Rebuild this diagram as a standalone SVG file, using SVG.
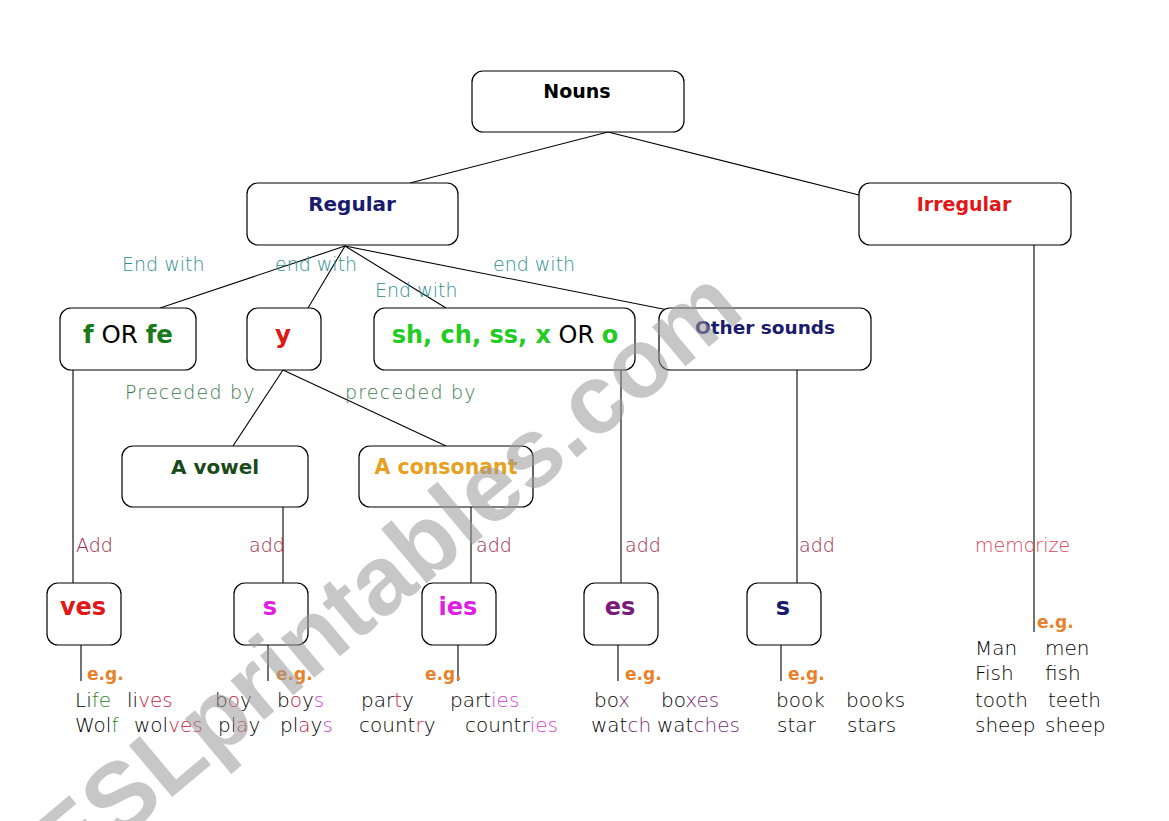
<svg xmlns="http://www.w3.org/2000/svg" width="1169" height="821" viewBox="0 0 1169 821">
<style>
.box{fill:#fff;stroke:#000;stroke-width:1.2}
.ln{stroke:#000;stroke-width:1.1;fill:none}
.b{font-family:"DejaVu Sans",sans-serif;font-weight:bold;text-anchor:middle}
.t{font-family:"DejaVu Sans",sans-serif;font-weight:200;font-size:19px}
.ex{font-family:"DejaVu Sans",sans-serif;font-weight:200;font-size:20px;fill:#000}
.eg{font-family:"DejaVu Sans",sans-serif;font-weight:bold;font-size:17px;fill:#e8822a}
.teal{fill:#2e9090}
.grn{fill:#3a7a4a;letter-spacing:1.2px}
.mar{fill:#a02848}
.r{fill:#c8203c}
.g{fill:#2a8a2a}
.m{fill:#d040d0}
.p{fill:#7a2a7a}
</style>
<rect width="1169" height="821" fill="#fff"/>
<g id="connectors">
<line class="ln" x1="608" y1="132" x2="410" y2="183"/>
<line class="ln" x1="608" y1="132" x2="859" y2="195"/>
<line class="ln" x1="345" y1="246" x2="160" y2="308"/>
<line class="ln" x1="345" y1="246" x2="308" y2="308"/>
<line class="ln" x1="345" y1="246" x2="446" y2="308"/>
<line class="ln" x1="345" y1="246" x2="668" y2="310"/>
<line class="ln" x1="283" y1="370" x2="233" y2="446"/>
<line class="ln" x1="283" y1="370" x2="446" y2="446"/>
<line class="ln" x1="73" y1="370" x2="73" y2="583"/>
<line class="ln" x1="283" y1="507" x2="283" y2="583"/>
<line class="ln" x1="471" y1="507" x2="471" y2="583"/>
<line class="ln" x1="621" y1="370" x2="621" y2="583"/>
<line class="ln" x1="797" y1="370" x2="797" y2="583"/>
<line class="ln" x1="1034" y1="245" x2="1034" y2="632"/>
<line class="ln" x1="81" y1="645" x2="81" y2="681"/>
<line class="ln" x1="268" y1="645" x2="268" y2="681"/>
<line class="ln" x1="458" y1="645" x2="458" y2="681"/>
<line class="ln" x1="618" y1="645" x2="618" y2="681"/>
<line class="ln" x1="781" y1="645" x2="781" y2="681"/>
</g>
<g id="labels">
<text class="t teal" x="122" y="271">End with</text>
<text class="t teal" x="275" y="271">end with</text>
<text class="t teal" x="375" y="297">End with</text>
<text class="t teal" x="493" y="271">end with</text>
<text class="t grn" x="125" y="399">Preceded by</text>
<text class="t grn" x="345" y="399">preceded by</text>
<text class="t mar" x="76" y="552">Add</text>
<text class="t mar" x="249" y="552">add</text>
<text class="t mar" x="476" y="552">add</text>
<text class="t mar" x="625" y="552">add</text>
<text class="t mar" x="799" y="552">add</text>
<text class="t" x="975" y="552" fill="#e04050">memorize</text>
</g>
<g id="nouns"><rect class="box" x="472" y="71" width="212" height="61" rx="11"/><text class="b" x="577" y="98" font-size="19" fill="#000">Nouns</text></g>
<g id="regular"><rect class="box" x="247" y="183" width="211" height="62" rx="11"/><text class="b" x="352" y="211" font-size="20" fill="#1a1a6e">Regular</text></g>
<g id="irregular"><rect class="box" x="859" y="183" width="212" height="62" rx="11"/><text class="b" x="964" y="211" font-size="19" fill="#e01818">Irregular</text></g>
<g id="f-or-fe"><rect class="box" x="60" y="308" width="136" height="62" rx="11"/><text class="b" x="128" y="343" font-size="24.5" fill="#1a7a1a">f<tspan font-weight="normal" fill="#000"> OR </tspan>fe</text></g>
<g id="y"><rect class="box" x="247" y="308" width="74" height="62" rx="11"/><text class="b" x="283" y="343" font-size="24.5" fill="#e01818">y</text></g>
<g id="sh-ch"><rect class="box" x="374" y="308" width="261" height="62" rx="11"/><text class="b" x="505" y="343" font-size="24" fill="#22cc22">sh, ch, ss, x<tspan font-weight="normal" fill="#000"> OR </tspan>o</text></g>
<g id="other-sounds"><rect class="box" x="659" y="308" width="212" height="62" rx="11"/><text class="b" x="765" y="334" font-size="18.5" fill="#1a1a6e">Other sounds</text></g>
<g id="a-vowel"><rect class="box" x="122" y="446" width="186" height="61" rx="11"/><text class="b" x="215" y="474" font-size="20" fill="#1a4a1a">A vowel</text></g>
<g id="a-consonant"><rect class="box" x="359" y="446" width="174" height="61" rx="11"/><text class="b" x="446" y="474" font-size="20.5" fill="#e8a020">A consonant</text></g>
<g id="ves"><rect class="box" x="47" y="583" width="74" height="62" rx="11"/><text class="b" x="83" y="615" font-size="24" fill="#e01818">ves</text></g>
<g id="s1"><rect class="box" x="234" y="583" width="74" height="62" rx="11"/><text class="b" x="270" y="615" font-size="24" fill="#e020e0">s</text></g>
<g id="ies"><rect class="box" x="422" y="583" width="74" height="62" rx="11"/><text class="b" x="458" y="615" font-size="24" fill="#e020e0">ies</text></g>
<g id="es"><rect class="box" x="584" y="583" width="74" height="62" rx="11"/><text class="b" x="620" y="615" font-size="24" fill="#7a1a7a">es</text></g>
<g id="s2"><rect class="box" x="747" y="583" width="74" height="62" rx="11"/><text class="b" x="783" y="615" font-size="24" fill="#1a1a6e">s</text></g>
<g id="examples">
<text class="eg" x="87" y="680">e.g.</text>
<text class="eg" x="276" y="680">e.g.</text>
<text class="eg" x="425" y="680">e.g.</text>
<text class="eg" x="625" y="680">e.g.</text>
<text class="eg" x="788" y="680">e.g.</text>
<text class="eg" x="1037" y="628">e.g.</text>
<text class="ex" x="75" y="707">Li<tspan class="g">fe</tspan></text>
<text class="ex" x="127" y="707">li<tspan class="r">ves</tspan></text>
<text class="ex" x="75" y="732">Wol<tspan class="g">f</tspan></text>
<text class="ex" x="134" y="732">wol<tspan class="r">ves</tspan></text>
<text class="ex" x="215" y="707">b<tspan class="r">o</tspan>y</text>
<text class="ex" x="277" y="707">b<tspan class="r">o</tspan>y<tspan class="m">s</tspan></text>
<text class="ex" x="218" y="732">pl<tspan class="r">a</tspan>y</text>
<text class="ex" x="280" y="732">pl<tspan class="r">a</tspan>y<tspan class="m">s</tspan></text>
<text class="ex" x="361" y="707">par<tspan class="r">t</tspan>y</text>
<text class="ex" x="450" y="707">part<tspan class="m">ies</tspan></text>
<text class="ex" x="359" y="732">count<tspan class="r">r</tspan>y</text>
<text class="ex" x="465" y="732">countr<tspan class="m">ies</tspan></text>
<text class="ex" x="594" y="707">bo<tspan class="p">x</tspan></text>
<text class="ex" x="661" y="707">bo<tspan class="p">xes</tspan></text>
<text class="ex" x="591" y="732">wat<tspan class="p">ch</tspan></text>
<text class="ex" x="657" y="732">wat<tspan class="p">ches</tspan></text>
<text class="ex" x="776" y="707">book</text>
<text class="ex" x="846" y="707">books</text>
<text class="ex" x="777" y="732">star</text>
<text class="ex" x="847" y="732">stars</text>
<text class="ex" x="975" y="655">Man</text>
<text class="ex" x="1045" y="655">men</text>
<text class="ex" x="975" y="680">Fish</text>
<text class="ex" x="1045" y="680">fish</text>
<text class="ex" x="975" y="707">tooth</text>
<text class="ex" x="1048" y="707">teeth</text>
<text class="ex" x="975" y="732">sheep</text>
<text class="ex" x="1045" y="732">sheep</text>
</g>
<g id="watermark" opacity="0.55">
<text transform="translate(407,600) rotate(-40)" font-family="Liberation Sans,Arial,sans-serif" font-weight="bold" font-size="98" fill="#9a9a9a" text-anchor="middle">ESLprintables.com</text>
</g>
</svg>
